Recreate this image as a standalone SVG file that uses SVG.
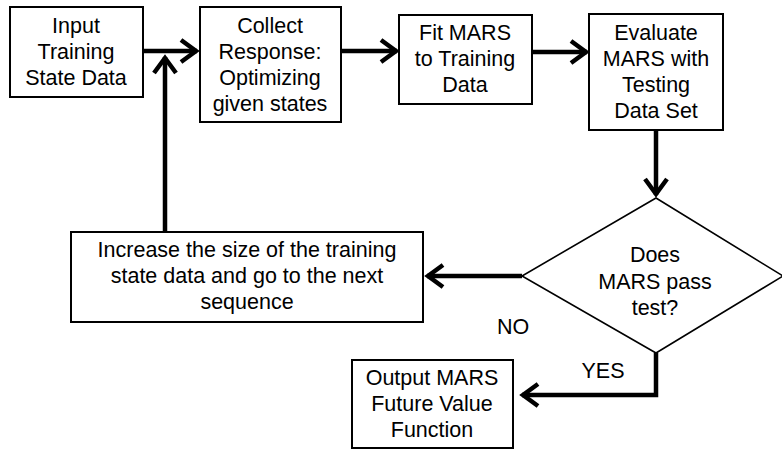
<svg xmlns="http://www.w3.org/2000/svg" width="782" height="451" viewBox="0 0 782 451">
<style>
.box{fill:#fff;stroke:#000;stroke-width:2}
.dia{fill:#fff;stroke:#000;stroke-width:1.6}
.t{font-family:"Liberation Sans",Arial,sans-serif;font-size:21.5px;fill:#000;text-anchor:middle}
.c{fill:none;stroke:#000;stroke-width:4.5;marker-end:url(#arr)}
</style>
<defs>
<marker id="arr" markerUnits="userSpaceOnUse" markerWidth="24" markerHeight="28" viewBox="0 0 24 28" refX="20" refY="14" orient="auto">
<path d="M4,3 L19,14 L4,25" fill="none" stroke="#000" stroke-width="4.5"/>
</marker>
</defs>
<rect width="782" height="451" fill="#fff"/>
<g id="connectors">
<path class="c" d="M143,51 L197,51"/>
<path class="c" d="M341,51 L397,51"/>
<path class="c" d="M532,52 L587,52"/>
<path class="c" d="M656,130 L656,195"/>
<path class="c" d="M522,276 L427,276"/>
<path class="c" d="M165,231 L165,57"/>
<path class="c" d="M656,353 L656,395 L522,395"/>
</g>
<g id="input">
<rect class="box" x="10" y="7" width="133" height="90"/>
<text class="t" x="76" y="33">Input</text>
<text class="t" x="76" y="59">Training</text>
<text class="t" x="76" y="85">State Data</text>
</g>
<g id="collect">
<rect class="box" x="200" y="7" width="141" height="115"/>
<text class="t" x="270" y="33">Collect</text>
<text class="t" x="270" y="59">Response:</text>
<text class="t" x="270" y="85">Optimizing</text>
<text class="t" x="270" y="111">given states</text>
</g>
<g id="fit">
<rect class="box" x="399" y="15" width="133" height="89"/>
<text class="t" x="465" y="40">Fit MARS</text>
<text class="t" x="465" y="66">to Training</text>
<text class="t" x="465" y="92">Data</text>
</g>
<g id="evaluate">
<rect class="box" x="589" y="14" width="134" height="116"/>
<text class="t" x="656" y="40">Evaluate</text>
<text class="t" x="656" y="66">MARS with</text>
<text class="t" x="656" y="92">Testing</text>
<text class="t" x="656" y="118">Data Set</text>
</g>
<g id="decision">
<polygon class="dia" points="656,198 783,276 656,353 522,276"/>
<text class="t" x="655" y="262">Does</text>
<text class="t" x="655" y="289">MARS pass</text>
<text class="t" x="655" y="315">test?</text>
</g>
<g id="increase">
<rect class="box" x="71" y="232" width="352" height="90"/>
<text class="t" x="247" y="257">Increase the size of the training</text>
<text class="t" x="247" y="283">state data and go to the next</text>
<text class="t" x="247" y="309">sequence</text>
</g>
<g id="output">
<rect class="box" x="352" y="360" width="161" height="88"/>
<text class="t" x="432" y="385">Output MARS</text>
<text class="t" x="432" y="411">Future Value</text>
<text class="t" x="432" y="437">Function</text>
</g>
<g id="labels">
<text class="t" x="513" y="334">NO</text>
<text class="t" x="603" y="378">YES</text>
</g>
</svg>
